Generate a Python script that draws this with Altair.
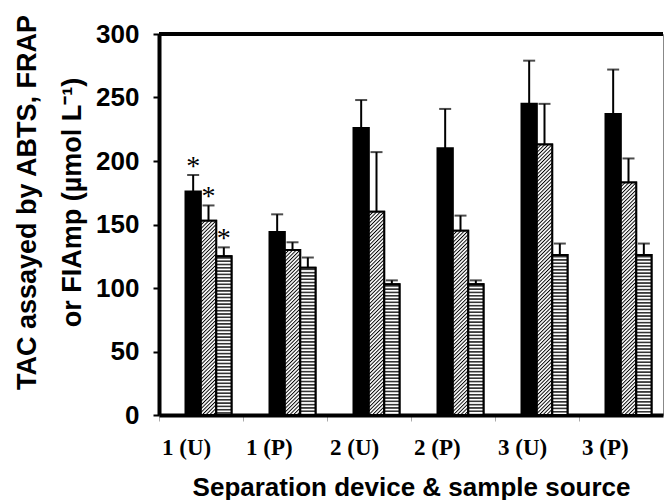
import base64
import altair as alt
import pandas as pd

categories = ["1 (U)", "1 (P)", "2 (U)", "2 (P)", "3 (U)", "3 (P)"]
methods = ["ABTS", "FRAP", "FIAmp"]
abts = [176, 144, 226, 210, 245, 237]
abts_sd = [13, 14, 22, 31, 34, 35]
frap = [153, 130, 160, 145, 213, 183]
frap_sd = [12, 6, 47, 12, 32, 19]
fiamp = [125, 116, 103, 103, 126, 126]
fiamp_sd = [7, 8, 3, 3, 9, 9]
abts_sig = [True, False, False, False, False, False]
frap_sig = [True, False, False, False, False, False]
fiamp_sig = [True, False, False, False, False, False]
y_ticks = [0, 50, 100, 150, 200, 250, 300]

y_title = ["TAC assayed by ABTS, FRAP", "or FIAmp (\u00b5mol L\u207b\u00b9)"]
x_title = "Separation device & sample source"

rows = []
for i, c in enumerate(categories):
    for m, vals, sds, sig in zip(methods, [abts, frap, fiamp],
                                 [abts_sd, frap_sd, fiamp_sd],
                                 [abts_sig, frap_sig, fiamp_sig]):
        rows.append({"cat": c, "method": m, "value": vals[i],
                     "top": vals[i] + sds[i], "star": "*" if sig[i] else ""})
df = pd.DataFrame(rows)


def svg_uri(svg):
    return "data:image/svg+xml;base64," + base64.b64encode(svg.encode()).decode()


diag_uri = svg_uri(
    "<svg xmlns='http://www.w3.org/2000/svg' width='100%' height='100%'>"
    "<defs><pattern id='d' width='2.6' height='2.6' patternUnits='userSpaceOnUse' "
    "patternTransform='rotate(45)'><rect width='2.6' height='2.6' fill='white'/>"
    "<rect width='0.95' height='2.6' fill='black'/></pattern></defs>"
    "<rect width='100%' height='100%' fill='url(#d)'/></svg>")
horiz_uri = svg_uri(
    "<svg xmlns='http://www.w3.org/2000/svg' width='100%' height='100%'>"
    "<defs><pattern id='h' width='4' height='3.3' patternUnits='userSpaceOnUse'>"
    "<rect width='4' height='3.3' fill='white'/>"
    "<rect y='1' width='4' height='1.3' fill='black'/></pattern></defs>"
    "<rect width='100%' height='100%' fill='url(#h)'/></svg>")

x_axis = alt.Axis(
    domainColor="black", domainWidth=4, ticks=True, tickColor="#aaa",
    tickWidth=1, tickSize=6, bandPosition=0, labelAlign="left", labelOffset=-39,
    labelBaseline="top", labelPadding=15, labelFont="Liberation Serif",
    labelFontSize=23, labelFontWeight="bold", labelColor="black", labelAngle=0,
    titleFont="Liberation Sans", titleFontSize=26, titleFontWeight="bold",
    titleColor="black", titleY=80, titleBaseline="alphabetic")

y_axis = alt.Axis(
    values=y_ticks, domainColor="black", domainWidth=4, tickColor="black",
    tickWidth=2, tickSize=6, labelFont="Liberation Sans", labelFontSize=26,
    labelFontWeight="bold", labelColor="black", labelPadding=14, grid=False,
    titleFont="Liberation Sans", titleFontSize=27, titleFontWeight="bold",
    titleColor="black", titleX=-124, titleY=168, titleAlign="center",
    titleAngle=270, titleBaseline="alphabetic", titleLineHeight=45)

y_scale = alt.Scale(domain=[0, 300], nice=False, zero=True)


def yenc(field):
    return alt.Y(field, scale=y_scale, axis=y_axis, title=y_title)


x_enc = alt.X("cat:N", sort=categories, scale=alt.Scale(paddingInner=0, paddingOuter=0),
              axis=x_axis, title=x_title)
xo_enc = alt.XOffset("method:N", sort=methods,
                     scale=alt.Scale(paddingInner=0, paddingOuter=0, range=[26.5, 72.5]))

base = alt.Chart(df).encode(x=x_enc, xOffset=xo_enc)

bars = base.mark_bar(stroke="black", strokeWidth=2).encode(
    y=yenc("value:Q"),
    color=alt.Color("method:N", scale=alt.Scale(domain=methods, range=["black", "white", "white"]),
                    legend=None))

diag = base.transform_filter(alt.datum.method == "FRAP").mark_image(
    url=diag_uri, aspect=False).encode(y=yenc("value:Q"))
horiz = base.transform_filter(alt.datum.method == "FIAmp").mark_image(
    url=horiz_uri, aspect=False).encode(y=yenc("value:Q"))

outline = base.transform_filter(alt.datum.method != "ABTS").mark_bar(
    fillOpacity=0, stroke="black", strokeWidth=2).encode(y=yenc("value:Q"))

err = base.mark_rule(color="black", strokeWidth=2).encode(
    y=yenc("value:Q"), y2="top:Q")
caps = base.mark_tick(color="black", thickness=2, size=12).encode(y=yenc("top:Q"))

stars = base.transform_filter(alt.datum.star != "").mark_text(
    font="Liberation Serif", fontSize=28, baseline="alphabetic", dy=0,
    color="black").encode(y=yenc("top:Q"), text="star:N")

top_border = alt.Chart(df).mark_rule(color="black", strokeWidth=3).encode(
    y=alt.datum(300))

chart = alt.layer(bars, diag, horiz, outline, err, caps, stars, top_border).properties(
    width=504, height=381, autosize="none",
    padding={"left": 159, "top": 34, "right": 1, "bottom": 85},
    background="white",
).configure_view(stroke="#888", strokeWidth=1)

chart.save("out.html", embed_options={"renderer": "svg", "actions": False})
